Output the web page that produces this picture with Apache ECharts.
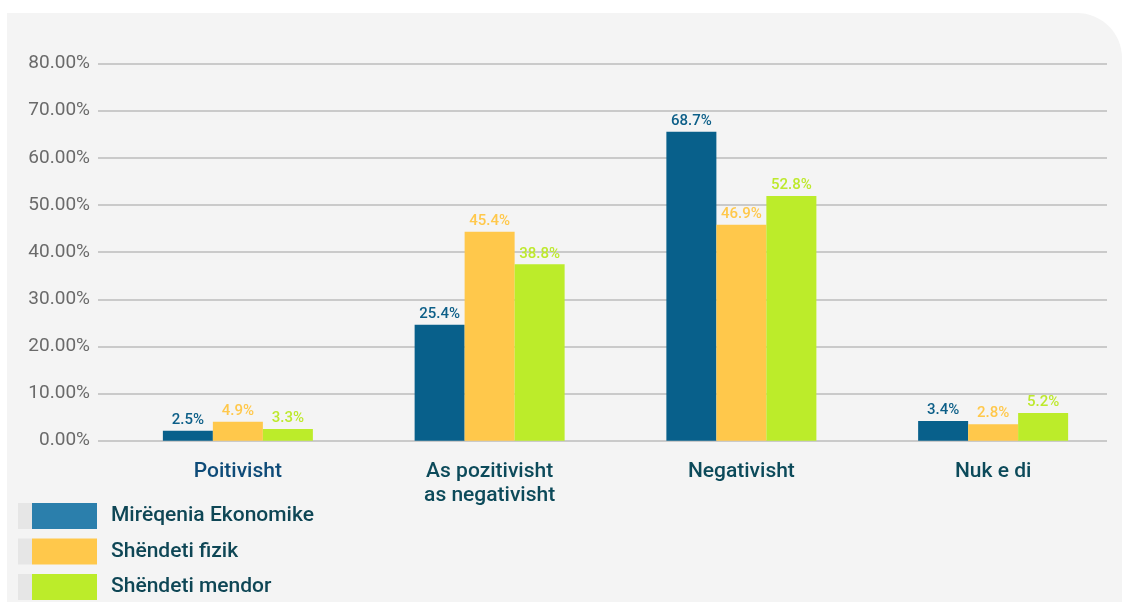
<!DOCTYPE html>
<html>
<head>
<meta charset="utf-8">
<style>
  html, body { margin: 0; padding: 0; background: #ffffff; }
  #chart { width: 1122px; height: 602px; }
</style>
<script src="https://cdn.jsdelivr.net/npm/echarts@6/dist/echarts.min.js"></script>
</head>
<body>
<div id="chart"></div>
<script>
// categories and series
const categories = ['Poitivisht', 'As pozitivisht\nas negativisht', 'Negativisht', 'Nuk e di']
const seriesNames = ['Mirëqenia Ekonomike', 'Shëndeti fizik', 'Shëndeti mendor']
// bar heights as drawn in the picture
const ekonomike = [2.1, 24.6, 65.5, 4.2]
const fizik = [4.0, 44.3, 45.8, 3.5]
const mendor = [2.5, 37.4, 51.9, 5.9]
// label texts printed above the bars
const ekonomikeLabels = ['2.5%', '25.4%', '68.7%', '3.4%']
const fizikLabels = ['4.9%', '45.4%', '46.9%', '2.8%']
const mendorLabels = ['3.3%', '38.8%', '52.8%', '5.2%']

const barColors = ['#08608b', '#ffc84b', '#bcec2a']
const labelColors = ['#0d5f88', '#ffc84b', '#bde92c']
const legendColors = ['#2b7fac', '#ffc84b', '#bcec2a']
const catColors = ['#0e4b78', '#0c4a5a', '#0c4a5a', '#0c4a5a']
const font = 'Roboto, "Noto Sans", sans-serif'

const chart = echarts.init(document.getElementById('chart'))

function makeSeries(name, values, labels, i) {
  return {
    name: name,
    type: 'bar',
    xAxisIndex: 1,
    yAxisIndex: 1,
    barWidth: 50,
    barGap: '0%',
    itemStyle: { color: barColors[i] },
    label: {
      show: true,
      position: 'top',
      distance: 3,
      color: labelColors[i],
      fontFamily: font,
      fontSize: 15,
      fontWeight: 500,
      formatter: p => labels[p.dataIndex]
    },
    data: values
  }
}

chart.setOption({
  animation: false,
  backgroundColor: '#ffffff',
  graphic: [
    {
      type: 'rect', z: -10, silent: true,
      shape: { x: 7, y: 13, width: 1115, height: 600, r: [0, 45, 0, 0] },
      style: { fill: '#f4f4f4' }
    },
    { type: 'rect', z: -5, shape: { x: 18, y: 503, width: 14, height: 26 }, style: { fill: '#e6e6e6' } },
    { type: 'rect', z: -5, shape: { x: 18, y: 538.5, width: 14, height: 26 }, style: { fill: '#e6e6e6' } },
    { type: 'rect', z: -5, shape: { x: 18, y: 574, width: 14, height: 26 }, style: { fill: '#e6e6e6' } }
  ],
  legend: {
    orient: 'vertical',
    left: 32,
    top: 503,
    padding: 0,
    height: 110,
    itemWidth: 65,
    itemHeight: 26,
    itemGap: 9.5,
    icon: 'rect',
    selectedMode: false,
    textStyle: { color: '#0e4655', fontFamily: font, fontSize: 21, fontWeight: 500, padding: [4, 0, 0, 9] },
    data: seriesNames.map((n, i) => ({ name: n, itemStyle: { color: legendColors[i] } }))
  },
  grid: [
    { left: 98, right: 15, top: 63.5, bottom: 161.3 },
    { left: 112, right: 3, top: 63.5, bottom: 161.3 }
  ],
  xAxis: [
    { type: 'category', gridIndex: 0, data: categories, show: false },
    {
      type: 'category',
      gridIndex: 1,
      data: categories.map((c, i) => ({ value: c, textStyle: { color: catColors[i] } })),
      axisLine: { show: false },
      axisTick: { show: false },
      axisLabel: {
        margin: 19,
        fontFamily: font,
        fontSize: 21,
        fontWeight: 500,
        lineHeight: 24
      }
    }
  ],
  yAxis: [
    {
      type: 'value',
      gridIndex: 0,
      min: 0,
      max: 80,
      interval: 10,
      axisLine: { show: false },
      axisTick: { show: false },
      axisLabel: {
        margin: 8,
        color: '#6a6a6a',
        fontFamily: font,
        fontSize: 19,
        formatter: v => v.toFixed(2) + '%'
      },
      splitLine: { lineStyle: { color: '#bdbdbd', width: 1.5 } }
    },
    { type: 'value', gridIndex: 1, min: 0, max: 80, interval: 10, show: false, splitLine: { show: false } }
  ],
  series: [
    makeSeries(seriesNames[0], ekonomike, ekonomikeLabels, 0),
    makeSeries(seriesNames[1], fizik, fizikLabels, 1),
    makeSeries(seriesNames[2], mendor, mendorLabels, 2)
  ]
})
</script>
</body>
</html>
